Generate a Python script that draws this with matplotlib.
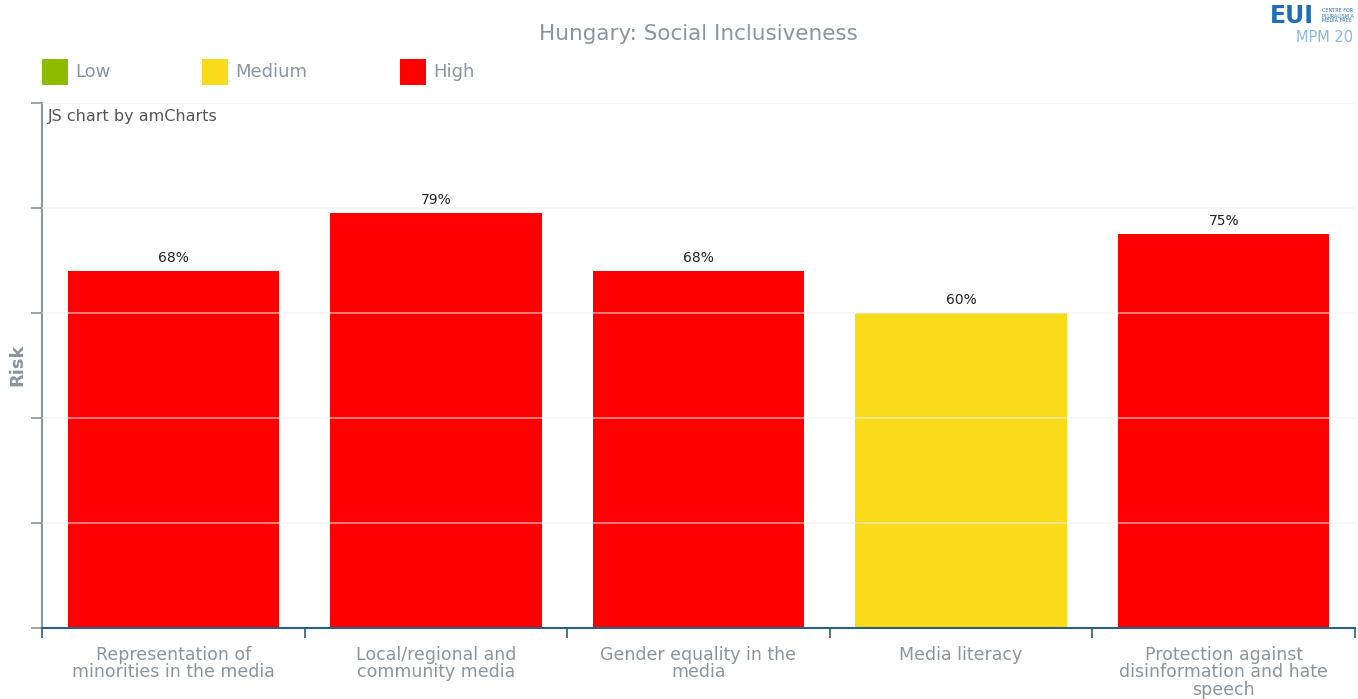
import matplotlib.pyplot as plt
from matplotlib.patches import Rectangle

categories = ['Representation of\nminorities in the media',
              'Local/regional and\ncommunity media',
              'Gender equality in the\nmedia',
              'Media literacy',
              'Protection against\ndisinformation and hate\nspeech']
values = [68, 79, 68, 60, 75]
levels = ['High', 'High', 'High', 'Medium', 'High']

level_names = ['Low', 'Medium', 'High']
level_colors = {'Low': '#8cbb00', 'Medium': '#fadb1a', 'High': '#ff0000'}

W, H = 1358, 699
fig = plt.figure(figsize=(W / 100, H / 100), dpi=100)
plt.rcParams['font.family'] = ['DejaVu Sans']

# plot area in pixels: x 42..1355, y 103..628
ax = fig.add_axes([42 / W, 1 - 628 / H, (1355 - 42) / W, (628 - 103) / H])

grey = '#8a959e'
blue = '#2a5f82'

x = range(len(categories))
bars = ax.bar(x, values, width=0.805, color=[level_colors[l] for l in levels], zorder=2)
for b, v in zip(bars, values):
    ax.text(b.get_x() + b.get_width() / 2, v + 1.2, '%d%%' % v, ha='center', va='bottom',
            fontsize=10, color='#222222', zorder=4)

ax.set_xlim(-0.5, len(categories) - 0.5)
ax.set_ylim(0, 100)
ax.set_yticks([0, 20, 40, 60, 80, 100])
ax.set_yticklabels([])
for yv in [20, 40, 60, 80, 100]:
    ax.axhline(yv, color='#f0f0f0', lw=1.2, alpha=0.6, zorder=3)

ax.set_xticks([i + 0.5 for i in range(-1, len(categories))], minor=False)
ax.set_xticklabels([])
ax.set_xticks(list(x), minor=True)
ax.set_xticklabels(categories, minor=True, fontsize=12.5, color=grey, linespacing=0.95, va='top')
ax.tick_params(axis='x', which='minor', length=0, pad=13)
ax.tick_params(axis='x', which='major', length=7, color=blue, width=1.2, direction='out')
ax.tick_params(axis='y', length=8, color=grey, width=1.2, direction='out')

for s in ['top', 'right']:
    ax.spines[s].set_visible(False)
ax.spines['left'].set_color(grey)
ax.spines['left'].set_linewidth(1.5)
ax.spines['bottom'].set_color(blue)
ax.spines['bottom'].set_linewidth(1.5)

fig.text(17 / W, 1 - 365 / H, 'Risk', rotation=90, ha='center', va='center',
         fontsize=13, color=grey, fontweight='bold')

fig.text(698 / W, 1 - 34 / H, 'Hungary: Social Inclusiveness', ha='center', va='center',
         fontsize=15.5, color=grey)
fig.text(48 / W, 1 - 117 / H, 'JS chart by amCharts', ha='left', va='center',
         fontsize=11.5, color='#555555')

# legend
leg_x = [42, 202, 400]
for name, lx in zip(level_names, leg_x):
    fig.patches.append(Rectangle((lx / W, 1 - 85 / H), 26 / W, 26 / H, transform=fig.transFigure,
                                 facecolor=level_colors[name], edgecolor='none'))
    fig.text((lx + 33) / W, 1 - 72 / H, name, ha='left', va='center', fontsize=13, color=grey)

# logo
fig.text(1270 / W, 1 - 16 / H, 'EUI', ha='left', va='center', fontsize=17, fontweight='bold',
         color='#1e6fb5')
fig.text(1322 / W, 1 - 16 / H, 'CENTRE FOR\nPLURALISM A\nMEDIA FREE', ha='left', va='center',
         fontsize=3.5, color='#1e6fb5', linespacing=1.0)
fig.text(1296 / W, 1 - 37 / H, 'MPM 20', ha='left', va='center', fontsize=10.5, color='#8ab8e0')

fig.savefig('out.png', dpi=100)
